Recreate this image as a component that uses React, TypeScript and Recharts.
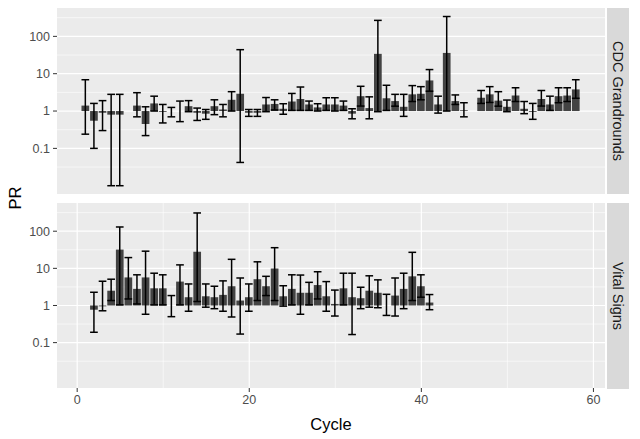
import React from "react"
import { ComposedChart, Bar, XAxis, YAxis, CartesianGrid } from "recharts"

// CDC Grandrounds facet
const topCycles = [1, 2, 3, 4, 5, 7, 8, 9, 10, 11, 12, 13, 14, 15, 16, 17, 18, 19, 20, 21, 22, 23, 24, 25, 26, 27, 28, 29, 30, 31, 32, 33, 34, 35, 36, 37, 38, 39, 40, 41, 42, 43, 44, 45, 47, 48, 49, 50, 51, 52, 53, 54, 55, 56, 57, 58]
const topPR = [1.4, 0.55, 0.9, 0.8, 0.8, 1.4, 0.45, 1.6, 0.95, 1.0, 1.0, 1.35, 0.9, 0.85, 1.35, 1.1, 2.0, 2.9, 0.9, 0.9, 1.5, 1.55, 1.15, 1.8, 2.1, 1.5, 1.25, 1.5, 1.5, 1.4, 0.85, 2.5, 1.2, 34, 2.2, 1.85, 1.3, 2.8, 2.9, 6.6, 1.5, 36, 1.85, 1.05, 2.27, 2.8, 1.9, 1.3, 2.6, 1.15, 0.95, 2.1, 1.5, 2.5, 2.6, 3.8]
const topLow = [0.24, 0.1, 0.3, 0.01, 0.01, 0.7, 0.22, 1.0, 0.48, 0.7, 0.52, 0.96, 0.56, 0.6, 0.8, 0.7, 1.0, 0.042, 0.72, 0.72, 0.96, 1.07, 0.82, 1.04, 1.04, 1.04, 1.0, 1.04, 1.0, 1.04, 0.62, 1.36, 0.62, 0.96, 1.04, 1.35, 0.72, 1.8, 2.0, 3.4, 0.88, 1.0, 1.5, 0.7, 1.6, 1.7, 1.35, 0.96, 1.8, 0.85, 0.6, 1.36, 1.04, 1.67, 1.8, 2.2]
const topHigh = [6.9, 1.6, 1.9, 2.8, 2.8, 3.1, 1.3, 2.5, 1.5, 1.25, 1.85, 1.9, 1.2, 1.1, 2.0, 1.5, 3.3, 44, 1.1, 1.1, 2.3, 2.0, 1.57, 2.96, 4.4, 1.85, 1.57, 2.27, 2.27, 1.85, 1.15, 4.6, 2.4, 268, 4.9, 2.8, 2.8, 4.8, 4.5, 12.9, 2.5, 340, 2.7, 1.67, 3.55, 4.5, 3.3, 1.97, 4.2, 1.8, 1.6, 3.55, 2.5, 4.2, 4.2, 6.9]

// Vital Signs facet
const botCycles = [2, 3, 4, 5, 6, 7, 8, 9, 10, 11, 12, 13, 14, 15, 16, 17, 18, 19, 20, 21, 22, 23, 24, 25, 26, 27, 28, 29, 30, 31, 32, 33, 34, 35, 36, 37, 38, 39, 40, 41]
const botPR = [0.77, 0.95, 2.5, 32, 5.7, 2.8, 5.7, 2.9, 2.9, 1.0, 4.4, 1.67, 28, 1.77, 1.67, 1.93, 3.3, 1.36, 1.67, 5.1, 3.3, 9.9, 1.77, 2.8, 2.2, 2.2, 3.55, 1.77, 1.1, 2.9, 1.67, 1.57, 2.5, 2.2, 1.0, 1.85, 2.8, 6.1, 3.3, 1.2]
const botLow = [0.19, 0.72, 1.36, 1.04, 1.5, 1.1, 0.58, 1.04, 1.04, 0.5, 1.04, 0.7, 1.28, 0.9, 0.82, 0.7, 0.49, 0.17, 0.7, 1.36, 1.85, 1.36, 0.96, 1.04, 0.58, 1.04, 1.5, 0.7, 0.52, 1.04, 0.165, 0.82, 0.9, 0.87, 0.54, 0.52, 0.82, 1.36, 1.67, 0.77]
const botHigh = [2.27, 4.5, 5.1, 130, 19.5, 6.7, 29, 7.4, 6.7, 1.85, 12.4, 3.8, 310, 3.8, 3.3, 4.6, 17.5, 5.5, 3.8, 15, 6.1, 36, 3.4, 6.7, 6.6, 4.2, 8.1, 4.4, 2.6, 7.4, 7.4, 3.1, 6.3, 4.9, 2.0, 5.5, 7.4, 27, 6.7, 1.97]

const yTicks = [0.1, 1, 10, 100]
const yMinor = [0.03162, 0.3162, 3.162, 31.62, 316.2]
const xTicks = [0, 20, 40, 60]
const xMinor = [10, 30, 50]

const font = "'Liberation Sans', Arial, sans-serif"

function buildRows(cycles: number[], pr: number[], lo: number[], hi: number[]) {
  return cycles.map((c, i) => ({
    cycle: c,
    bar: [Math.min(1, pr[i]), Math.max(1, pr[i])],
    err: [lo[i], hi[i]],
  }))
}

const ErrorShape = (props: any) => {
  const { x, y, width, height } = props
  if (x == null || y == null) return null
  const top = Math.min(y, y + height)
  const bottom = Math.max(y, y + height)
  const cx = x + width / 2
  const half = width / 2
  return (
    <g stroke="#000" strokeWidth={1.5} fill="none">
      <line x1={cx} x2={cx} y1={top} y2={bottom} />
      <line x1={cx - half} x2={cx + half} y1={top} y2={top} />
      <line x1={cx - half} x2={cx + half} y1={bottom} y2={bottom} />
    </g>
  )
}

const fmt = (v: number) => (v >= 1 ? String(Math.round(v)) : String(v))

function Panel({ rows, showX, height, marginBottom }: { rows: any[]; showX: boolean; height: number; marginBottom: number }) {
  const domain: [number, number] = [-2.345, 61.345]
  return (
    <ComposedChart width={640} height={height} data={rows} margin={{ top: 8, right: 35, left: 12, bottom: marginBottom }}>
      <CartesianGrid
        fill="#ebebeb"
        fillOpacity={1}
        stroke="#ffffff"
        strokeWidth={0.6}
        horizontalValues={yMinor}
        verticalValues={xMinor}
      />
      <CartesianGrid stroke="#ffffff" strokeWidth={1.2} horizontalValues={yTicks} verticalValues={xTicks} />
      <XAxis
        dataKey="cycle"
        type="number"
        domain={domain}
        allowDataOverflow
        ticks={xTicks}
        height={showX ? 30 : 0}
        tick={showX ? { fill: "#4d4d4d", fontSize: 12.5, fontFamily: font } : false}
        tickLine={showX ? { stroke: "#333" } : false}
        tickSize={4}
        tickMargin={3}
        axisLine={false}
      />
      <XAxis xAxisId="b" dataKey="cycle" type="number" domain={domain} allowDataOverflow hide />
      <YAxis
        scale="log"
        domain={[0.006, 575]}
        allowDataOverflow
        ticks={yTicks}
        tickFormatter={fmt}
        width={45}
        tick={{ fill: "#4d4d4d", fontSize: 12.5, fontFamily: font }}
        tickLine={{ stroke: "#333" }}
        tickSize={4}
        tickMargin={3}
        axisLine={false}
      />
      <Bar dataKey="bar" fill="#3a3a3a" fillOpacity={0.95} barSize={7.7} isAnimationActive={false} />
      <Bar xAxisId="b" dataKey="err" barSize={7.7} shape={ErrorShape} isAnimationActive={false} />
    </ComposedChart>
  )
}

function Strip({ top, label }: { top: number; label: string }) {
  return (
    <div
      style={{
        position: "absolute",
        left: 607,
        top,
        width: 22,
        height: 186,
        background: "#d9d9d9",
      }}
    >
      <div
        style={{
          position: "absolute",
          left: 11,
          top: 93,
          transform: "translate(-50%, -50%) rotate(90deg)",
          whiteSpace: "nowrap",
          fontFamily: font,
          fontSize: 14.5,
          color: "#1a1a1a",
        }}
      >
        {label}
      </div>
    </div>
  )
}

export default function App() {
  const topRows = buildRows(topCycles, topPR, topLow, topHigh)
  const botRows = buildRows(botCycles, botPR, botLow, botHigh)
  return (
    <div style={{ position: "absolute", left: 0, top: 0, width: 640, height: 439, background: "#fff", overflow: "hidden" }}>
      <div style={{ position: "absolute", left: 0, top: 0 }}>
        <Panel rows={topRows} showX={false} height={200} marginBottom={6} />
      </div>
      <div style={{ position: "absolute", left: 0, top: 195 }}>
        <Panel rows={botRows} showX={true} height={244} marginBottom={21} />
      </div>
      <Strip top={8} label="CDC Grandrounds" />
      <Strip top={203} label="Vital Signs" />
      <div
        style={{
          position: "absolute",
          left: 15,
          top: 198,
          transform: "translate(-50%, -50%) rotate(-90deg)",
          fontFamily: font,
          fontSize: 16.5,
          color: "#000",
        }}
      >
        PR
      </div>
      <div
        style={{
          position: "absolute",
          left: 331,
          top: 424,
          transform: "translate(-50%, -50%)",
          fontFamily: font,
          fontSize: 16.5,
          color: "#000",
        }}
      >
        Cycle
      </div>
    </div>
  )
}
